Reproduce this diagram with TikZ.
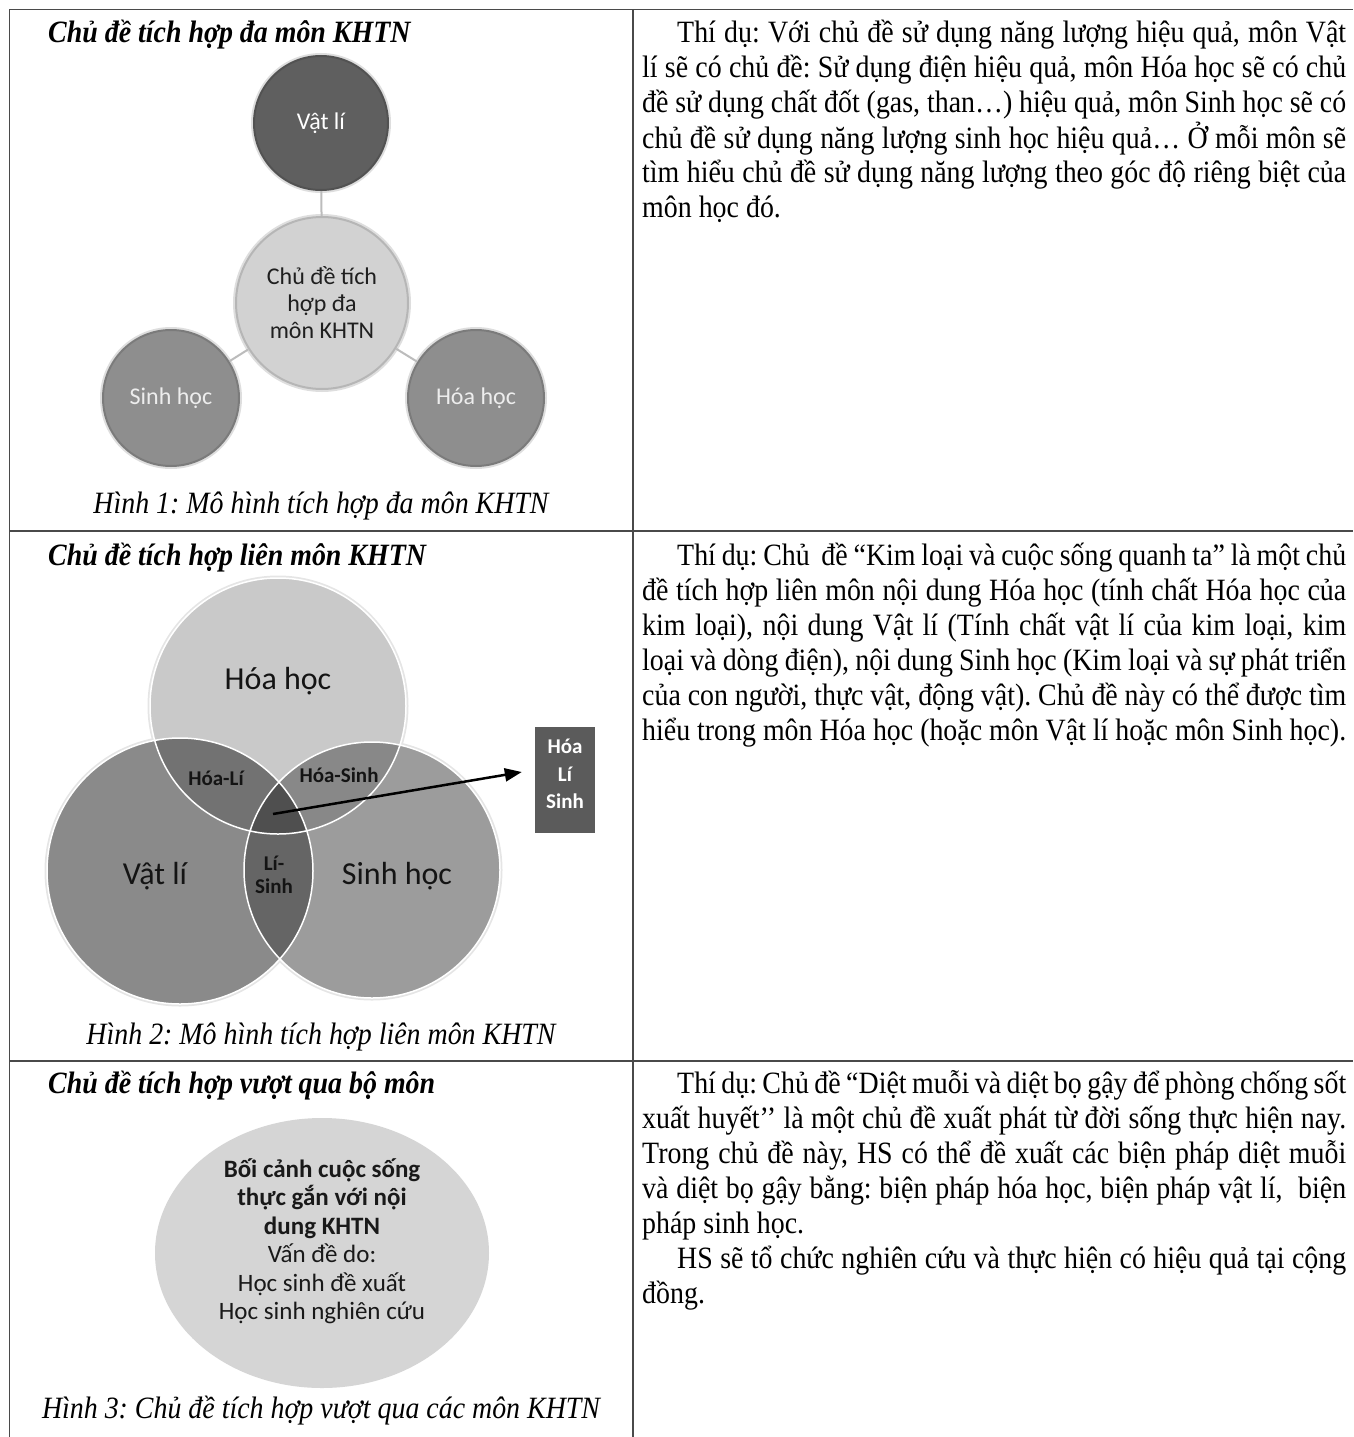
\documentclass[tikz,border=0pt]{standalone}
\usepackage{fontspec}
\setmainfont{Liberation Serif}[FakeStretch=0.9]
\newfontfamily\calfont{Carlito}
\usetikzlibrary{shapes.geometric,arrows.meta}
\definecolor{rulec}{HTML}{4A4A4A}
\definecolor{cdark}{HTML}{5F5F5F}
\definecolor{cmid}{HTML}{8E8E8E}
\definecolor{clight}{HTML}{D2D2D2}
\definecolor{connc}{HTML}{BCBCBC}
\definecolor{vhoa}{HTML}{C9C9C9}
\definecolor{vli}{HTML}{8A8A8A}
\definecolor{vsinh}{HTML}{9C9C9C}
\definecolor{vhl}{HTML}{727272}
\definecolor{vhs}{HTML}{888888}
\definecolor{vls}{HTML}{656565}
\definecolor{vall}{HTML}{4F4F4F}
\definecolor{boxc}{HTML}{5B5B5B}
\definecolor{ellc}{HTML}{D5D5D5}
\frenchspacing
\begin{document}
\begin{tikzpicture}[x=1pt,y=-1pt,
  tabline/.style={draw=rulec,line width=1.8pt},
  ttl/.style={anchor=base west,inner sep=0pt,font=\bfseries\itshape\fontsize{31}{35}\selectfont},
  capt/.style={anchor=base,inner sep=0pt,font=\itshape\fontsize{31}{35}\selectfont},
  parab/.style={anchor=base west,inner sep=0pt},
  bub/.style={circle,inner sep=0pt,align=center,font=\calfont\fontsize{24}{27}\selectfont,
     postaction={draw=black,draw opacity=0.13,line width=4pt}},
  connl/.style={draw=connc,line width=2pt},
  vbig/.style={inner sep=0pt,font=\calfont\fontsize{32}{36}\selectfont,text=black!92},
  vsmall/.style={inner sep=0pt,align=center,font=\calfont\bfseries\fontsize{21}{23.5}\selectfont,text=black!92},
  vring/.style={draw=white,line width=1.5pt},
  halo/.style={draw=black,draw opacity=0.10,line width=3pt}]
\useasboundingbox (0,0) rectangle (1353,1437);
\fill[white] (0,0) rectangle (1353,1437);
% ---------------- table rules
\draw[tabline] (9.5,1437) -- (9.5,9.5) -- (1353,9.5);
\draw[tabline] (633,9.5) -- (633,1437);
\draw[tabline] (9.5,531) -- (1353,531);
\draw[tabline] (9.5,1061) -- (1353,1061);

% ---------------- row 1
\node[ttl] (t1) at (48,43) {Chủ đề tích hợp đa môn KHTN};
\node[bub,minimum size=136pt,fill=cdark,text=white] (vl) at (321,123) {Vật lí};
\node[bub,minimum size=174pt,fill=clight,text=black!88] (ctr) at (322,303) {Chủ đề tích\\hợp đa\\môn KHTN};
\node[bub,minimum size=138pt,fill=cmid,text=white!93!black] (sh) at (171,398) {Sinh học};
\node[bub,minimum size=138pt,fill=cmid,text=white!93!black] (hh) at (476,398) {Hóa học};
\draw[connl] (vl) -- (ctr);
\draw[connl] (ctr) -- (sh);
\draw[connl] (ctr) -- (hh);
\node[capt] (c1) at (321,513) {Hình 1: Mô hình tích hợp đa môn KHTN};

\node[parab] (p1) at (642,43) {\parbox[t]{704pt}{\fontsize{31}{35}\selectfont\hyphenpenalty=10000\tolerance=9000
\hspace*{35pt}Thí dụ: Với chủ đề sử dụng năng lượng hiệu quả, môn Vật\linebreak
lí sẽ có chủ đề: Sử dụng điện hiệu quả, môn Hóa học sẽ có chủ\linebreak
đề sử dụng chất đốt (gas, than…) hiệu quả, môn Sinh học sẽ có\linebreak
chủ đề sử dụng năng lượng sinh học hiệu quả… Ở mỗi môn sẽ\linebreak
tìm hiểu chủ đề sử dụng năng lượng theo góc độ riêng biệt của\linebreak
môn học đó.}};

% ---------------- row 2
\node[ttl] (t2) at (48,565) {Chủ đề tích hợp liên môn KHTN};
\coordinate (ch) at (278,706);
\coordinate (cv) at (180,871);
\coordinate (cs) at (372,870);
\draw[halo] (ch) circle[radius=129pt] (cv) circle[radius=134pt] (cs) circle[radius=129pt];
\fill[vhoa] (ch) circle[radius=128pt];
\fill[vli] (cv) circle[radius=133pt];
\fill[vsinh] (cs) circle[radius=128pt];
\begin{scope}\clip (ch) circle[radius=128pt]; \fill[vhl] (cv) circle[radius=133pt];\end{scope}
\begin{scope}\clip (ch) circle[radius=128pt]; \fill[vhs] (cs) circle[radius=128pt];\end{scope}
\begin{scope}\clip (cv) circle[radius=133pt]; \fill[vls] (cs) circle[radius=128pt];\end{scope}
\begin{scope}\clip (ch) circle[radius=128pt]; \clip (cv) circle[radius=133pt]; \fill[vall] (cs) circle[radius=128pt];\end{scope}
\draw[vring] (ch) circle[radius=128pt] (cv) circle[radius=133pt] (cs) circle[radius=128pt];
\node[vbig] (lhoa) at (278,681) {Hóa học};
\node[vbig] (lli) at (155,876) {Vật lí};
\node[vbig] (lsinh) at (397,876) {Sinh học};
\node[vsmall] (lhl) at (216,778) {Hóa-Lí};
\node[vsmall] (lhs) at (339,775) {Hóa-Sinh};
\node[vsmall] (lls) at (274,875) {Lí-\\Sinh};
\node[fill=boxc,minimum width=60pt,minimum height=106pt,inner sep=0pt] (hls) at (565,780) {};
\node[align=center,inner sep=0pt,text=white,font=\calfont\bfseries\fontsize{21}{27.5}\selectfont] (hlst) at (565,774) {Hóa\\Lí\\Sinh};
\coordinate (core) at (273,814);
\draw[line width=2.5pt,-{Triangle[length=17pt,width=13pt]}] (core) -- ([xshift=-13pt,yshift=8pt]hls.west);
\node[capt] (c2) at (321,1044) {Hình 2: Mô hình tích hợp liên môn KHTN};

\node[parab] (p2) at (642,565) {\parbox[t]{704pt}{\fontsize{31}{35}\selectfont\hyphenpenalty=10000\tolerance=9000
\hspace*{35pt}Thí dụ: Chủ~ đề “Kim loại và cuộc sống quanh ta” là một chủ\linebreak
đề tích hợp liên môn nội dung Hóa học (tính chất Hóa học của\linebreak
kim loại), nội dung Vật lí (Tính chất vật lí của kim loại, kim\linebreak
loại và dòng điện), nội dung Sinh học (Kim loại và sự phát triển\linebreak
của con người, thực vật, động vật). Chủ đề này có thể được tìm\linebreak
hiểu trong môn Hóa học (hoặc môn Vật lí hoặc môn Sinh học).}};

% ---------------- row 3
\node[ttl] (t3) at (48,1093) {Chủ đề tích hợp vượt qua bộ môn};
\node[ellipse,fill=ellc,minimum width=334pt,minimum height=270pt,inner sep=0pt] (ctx) at (322,1253) {};
\node[align=center,inner sep=0pt,text=black!90,font=\calfont\fontsize{25}{28.5}\selectfont] (ctxt) at (322,1241)
 {\textbf{Bối cảnh cuộc sống}\\\textbf{thực gắn với nội}\\\textbf{dung KHTN}\\Vấn đề do:\\Học sinh đề xuất\\Học sinh nghiên cứu};
\node[capt] (c3) at (321,1418) {Hình 3: Chủ đề tích hợp vượt qua các môn KHTN};

\node[parab] (p3) at (642,1093) {\parbox[t]{704pt}{\fontsize{31}{35}\selectfont\hyphenpenalty=10000\tolerance=9000
\hspace*{35pt}Thí dụ: Chủ đề “Diệt muỗi và diệt bọ gậy để phòng chống sốt\linebreak
xuất huyết’’ là một chủ đề xuất phát từ đời sống thực hiện nay.\linebreak
Trong chủ đề này, HS có thể đề xuất các biện pháp diệt muỗi\linebreak
và diệt bọ gậy bằng: biện pháp hóa học, biện pháp vật lí,~ biện\linebreak
pháp sinh học.\par
\hspace*{35pt}HS sẽ tổ chức nghiên cứu và thực hiện có hiệu quả tại cộng\linebreak
đồng.}};
\end{tikzpicture}
\end{document}
